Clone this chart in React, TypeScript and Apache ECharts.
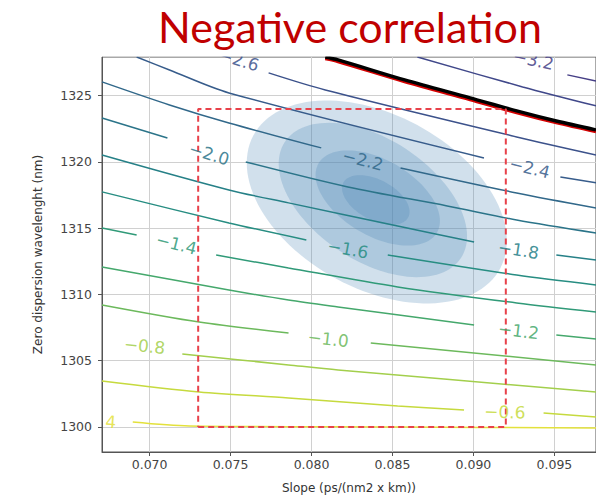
import React, { useEffect, useRef } from 'react';
import * as echarts from 'echarts';

// ---------- axes ----------
const xTicks = [0.07, 0.075, 0.08, 0.085, 0.09, 0.095];
const yTicks = [1300, 1305, 1310, 1315, 1320, 1325];
const xRange = [0.06706, 0.09757];
const yRange = [1298.11, 1327.92];

// ---------- contour lines: segments of [slope, zero-dispersion wavelength]; gaps hold inline labels ----------
const levelM04 = [[[0.06896, 1300.38], [0.07245, 1300.08], [0.08532, 1300.0], [0.09757, 1299.92]]];
const levelM06 = [
  [[0.06706, 1303.47], [0.07306, 1302.64], [0.07858, 1302.19], [0.08532, 1301.58], [0.08942, 1301.28]],
  [[0.09433, 1301.06], [0.09757, 1300.75]],
];
const levelM08 = [[[0.07202, 1305.51], [0.07858, 1304.68], [0.08164, 1304.3], [0.09757, 1302.64]]];
const levelM10 = [
  [[0.06706, 1309.21], [0.07306, 1307.92], [0.07858, 1307.09]],
  [[0.08366, 1306.34], [0.09757, 1304.68]],
];
const levelM12 = [
  [[0.06706, 1312.08], [0.0749, 1310.34], [0.07858, 1309.58], [0.08164, 1309.06], [0.09004, 1307.7]],
  [[0.09512, 1306.94], [0.09757, 1306.64]],
];
const levelM14 = [
  [[0.06706, 1315.02], [0.0692, 1314.49]],
  [[0.07411, 1312.98], [0.07858, 1312.0], [0.08532, 1310.57], [0.09267, 1309.36], [0.09757, 1308.68]],
];
const levelM16 = [
  [[0.06706, 1317.74], [0.0749, 1315.4], [0.07968, 1314.11]],
  [[0.08471, 1312.98], [0.09267, 1311.47], [0.09757, 1310.72]],
];
const levelM18 = [
  [[0.06706, 1320.53], [0.0749, 1317.89], [0.07858, 1316.91], [0.08532, 1315.17], [0.09004, 1313.96]],
  [[0.09512, 1312.98], [0.09757, 1312.6]],
];
const levelM20 = [
  [[0.06706, 1323.32], [0.0711, 1321.81]],
  [[0.07594, 1320.0], [0.08225, 1318.11], [0.08838, 1316.68], [0.09267, 1315.62], [0.09757, 1314.64]],
];
const levelM22 = [
  [[0.06706, 1326.04], [0.07123, 1324.3], [0.0749, 1322.94], [0.0806, 1321.06]],
  [[0.0855, 1319.55], [0.09267, 1317.66], [0.09757, 1316.53]],
];
const levelM24 = [
  [[0.0692, 1327.92], [0.07123, 1326.94], [0.0749, 1325.21], [0.09065, 1320.3]],
  [[0.09537, 1318.87], [0.09757, 1318.42]],
];
const levelM26 = [[[0.07735, 1326.72], [0.08085, 1325.43], [0.09267, 1321.89], [0.09757, 1320.53]]];
const levelM30 = [[[0.08654, 1327.92], [0.09304, 1325.66], [0.09757, 1324.23]]];
const levelM32 = [[[0.0958, 1326.57], [0.09757, 1326.11]]];

// highlighted -2.8 contour (black line with a red edge below it)
const boundaryBlack = [[0.08085, 1327.92], [0.08164, 1327.7], [0.08575, 1326.19], [0.08979, 1324.83], [0.09267, 1323.85], [0.09512, 1323.09], [0.09757, 1322.42]];
const boundaryRed = [[0.08085, 1327.8], [0.08164, 1327.58], [0.08575, 1326.07], [0.08979, 1324.71], [0.09267, 1323.73], [0.09512, 1322.97], [0.09757, 1322.3]];

const contourSets = [levelM04, levelM06, levelM08, levelM10, levelM12, levelM14, levelM16, levelM18, levelM20, levelM22, levelM24, levelM26, levelM30, levelM32];
const contourColors = ['#e3e13c', '#c6da3e', '#a3cf4c', '#6cb95c', '#45a86c', '#309a78', '#278d82', '#268087', '#2b7489', '#31688a', '#375c8b', '#3c528b', '#40488a', '#463f86'];

// ---------- inline contour labels ----------
const labelText = ['4', '−0.6', '−0.8', '−1.0', '−1.2', '−1.4', '−1.6', '−1.8', '−2.0', '−2.2', '−2.4', '−2.6', '−3.2'];
const labelX = [0.06761, 0.09194, 0.06969, 0.08103, 0.09279, 0.07166, 0.08225, 0.09279, 0.07368, 0.08317, 0.09347, 0.07551, 0.09371];
const labelY = [1300.38, 1301.13, 1306.11, 1306.64, 1307.25, 1313.81, 1313.43, 1313.36, 1320.6, 1320.15, 1319.55, 1327.7, 1327.7];
const labelLevelIndex = [0, 1, 2, 3, 4, 5, 6, 7, 8, 9, 10, 11, 13];

// ---------- confidence ellipses: centre, major semi-axis vector, minor semi-axis vector ----------
const ellipseCx = [0.08403, 0.08379, 0.08409, 0.08397];
const ellipseCy = [1316.98, 1317.13, 1317.28, 1317.13];
const ellipseMajorDx = [0.00763, 0.00545, 0.00366, 0.002];
const ellipseMajorDy = [-5.0, -4.36, -2.6, -1.31];
const ellipseMinorDx = [-0.0025, -0.00203, -0.00116, -0.00058];
const ellipseMinorDy = [-5.8, -3.86, -2.48, -1.34];

// ---------- dashed region ----------
const regionX = [0.073, 0.092];
const regionY = [1300, 1324];

export default function App() {
  const ref = useRef<HTMLDivElement>(null);

  useEffect(() => {
    document.body.style.margin = '0';
    if (!ref.current) return;
    const chart = echarts.init(ref.current, null, { renderer: 'svg' });

    const series: any[] = [];

    series.push({
      type: 'custom',
      z: 1,
      silent: true,
      data: ellipseCx.map((cx, i) => [cx, ellipseCy[i], ellipseMajorDx[i], ellipseMajorDy[i], ellipseMinorDx[i], ellipseMinorDy[i]]),
      dimensions: ['x', 'y', 'adx', 'ady', 'bdx', 'bdy'],
      encode: { x: 0, y: 1 },
      renderItem: (_p: any, api: any) => {
        const cx = api.value(0), cy = api.value(1);
        const ax = api.value(2), ay = api.value(3), bx = api.value(4), by = api.value(5);
        const pts: number[][] = [];
        const n = 120;
        for (let k = 0; k < n; k++) {
          const t = (k / n) * Math.PI * 2;
          pts.push(api.coord([cx + ax * Math.cos(t) + bx * Math.sin(t), cy + ay * Math.cos(t) + by * Math.sin(t)]));
        }
        return { type: 'polygon', shape: { points: pts }, style: { fill: 'rgba(70,130,180,0.25)' } };
      },
    });

    contourSets.forEach((segs, li) => {
      segs.forEach((seg) => {
        series.push({
          type: 'line',
          data: seg,
          z: 2,
          silent: true,
          symbol: 'none',
          smooth: 0.3,
          lineStyle: { color: contourColors[li], width: 1.5 },
        });
      });
    });

    series.push({
      type: 'line', data: boundaryRed, z: 3, silent: true, symbol: 'none', smooth: 0.3,
      lineStyle: { color: '#d40000', width: 3.5 },
    });
    series.push({
      type: 'line', data: boundaryBlack, z: 3, silent: true, symbol: 'none', smooth: 0.3,
      lineStyle: { color: '#000000', width: 3.4 },
    });

    series.push({
      type: 'line',
      z: 4,
      silent: true,
      symbol: 'none',
      data: [
        [regionX[0], regionY[0]], [regionX[1], regionY[0]], [regionX[1], regionY[1]],
        [regionX[0], regionY[1]], [regionX[0], regionY[0]],
      ],
      lineStyle: { color: '#e8414a', width: 2, type: [6, 4] },
    });

    const baseOption: any = {
      animation: false,
      backgroundColor: '#ffffff',
      grid: { left: 102, top: 57, right: -4, bottom: 52, show: true, borderColor: '#555555', borderWidth: 1, backgroundColor: '#ffffff' },
      xAxis: {
        type: 'value', min: xRange[0], max: xRange[1],
        name: 'Slope (ps/(nm2 x km))', nameLocation: 'middle', nameGap: 30,
        nameTextStyle: { fontFamily: 'DejaVu Sans', fontSize: 12, color: '#333' },
        axisLine: { show: true, onZero: false, lineStyle: { color: '#555', width: 1 } },
        axisTick: { show: true, customValues: xTicks, length: 4, lineStyle: { color: '#555' } },
        axisLabel: { customValues: xTicks, formatter: (v: number) => v.toFixed(3), margin: 6, fontFamily: 'DejaVu Sans', fontSize: 12.5, color: '#444' },
        splitLine: { show: true, lineStyle: { color: '#d0d0d0', width: 1 } },
      },
      yAxis: {
        type: 'value', min: yRange[0], max: yRange[1],
        name: 'Zero dispersion wavelenght (nm)', nameLocation: 'middle', nameGap: 58,
        nameTextStyle: { fontFamily: 'DejaVu Sans', fontSize: 12, color: '#333' },
        axisLine: { show: true, onZero: false, lineStyle: { color: '#555', width: 1 } },
        axisTick: { show: true, customValues: yTicks, length: 4, lineStyle: { color: '#555' } },
        axisLabel: { customValues: yTicks, formatter: (v: number) => String(Math.round(v)), margin: 10, fontFamily: 'DejaVu Sans', fontSize: 12.5, color: '#444' },
        splitLine: { show: true, lineStyle: { color: '#d0d0d0', width: 1 } },
      },
      graphic: [
        { type: 'rect', z: 50, silent: true, shape: { x: 102, y: 50, width: 500, height: 6.5 }, style: { fill: '#ffffff' } },
        {
          type: 'text', z: 60, x: 350, y: 5,
          style: { text: 'Negative correlation', fontFamily: 'Lato', fontSize: 43, fill: '#c00000', align: 'center', verticalAlign: 'top' },
        },
      ],
      series,
    };

    chart.setOption(baseOption);

    // inline labels rotated along their contour (angle taken from the drawn line)
    const conv = (p: number[]) => chart.convertToPixel({ gridIndex: 0 }, p) as number[];
    const labelData = labelText.map((txt, i) => {
      const lvl = contourSets[labelLevelIndex[i]];
      const flat = (lvl as number[][][]).flat().slice().sort((a, b) => a[0] - b[0]);
      let k = flat.findIndex((p) => p[0] > labelX[i]);
      if (k <= 0) k = k === 0 ? 1 : flat.length - 1;
      const a = conv(flat[k - 1]);
      const b = conv(flat[k]);
      const ang = (-Math.atan2(b[1] - a[1], b[0] - a[0]) * 180) / Math.PI;
      return {
        value: [labelX[i], labelY[i]],
        label: { rotate: ang, color: contourColors[labelLevelIndex[i]], formatter: txt },
      };
    });

    chart.setOption({
      series: [
        ...series,
        {
          type: 'scatter',
          z: 5,
          silent: true,
          symbolSize: 0,
          data: labelData,
          label: { show: true, position: 'inside', fontFamily: 'DejaVu Sans', fontSize: 17, opacity: 0.85 },
        },
      ],
    });

    return () => chart.dispose();
  }, []);

  return <div ref={ref} style={{ width: 596, height: 504 }} />;
}
